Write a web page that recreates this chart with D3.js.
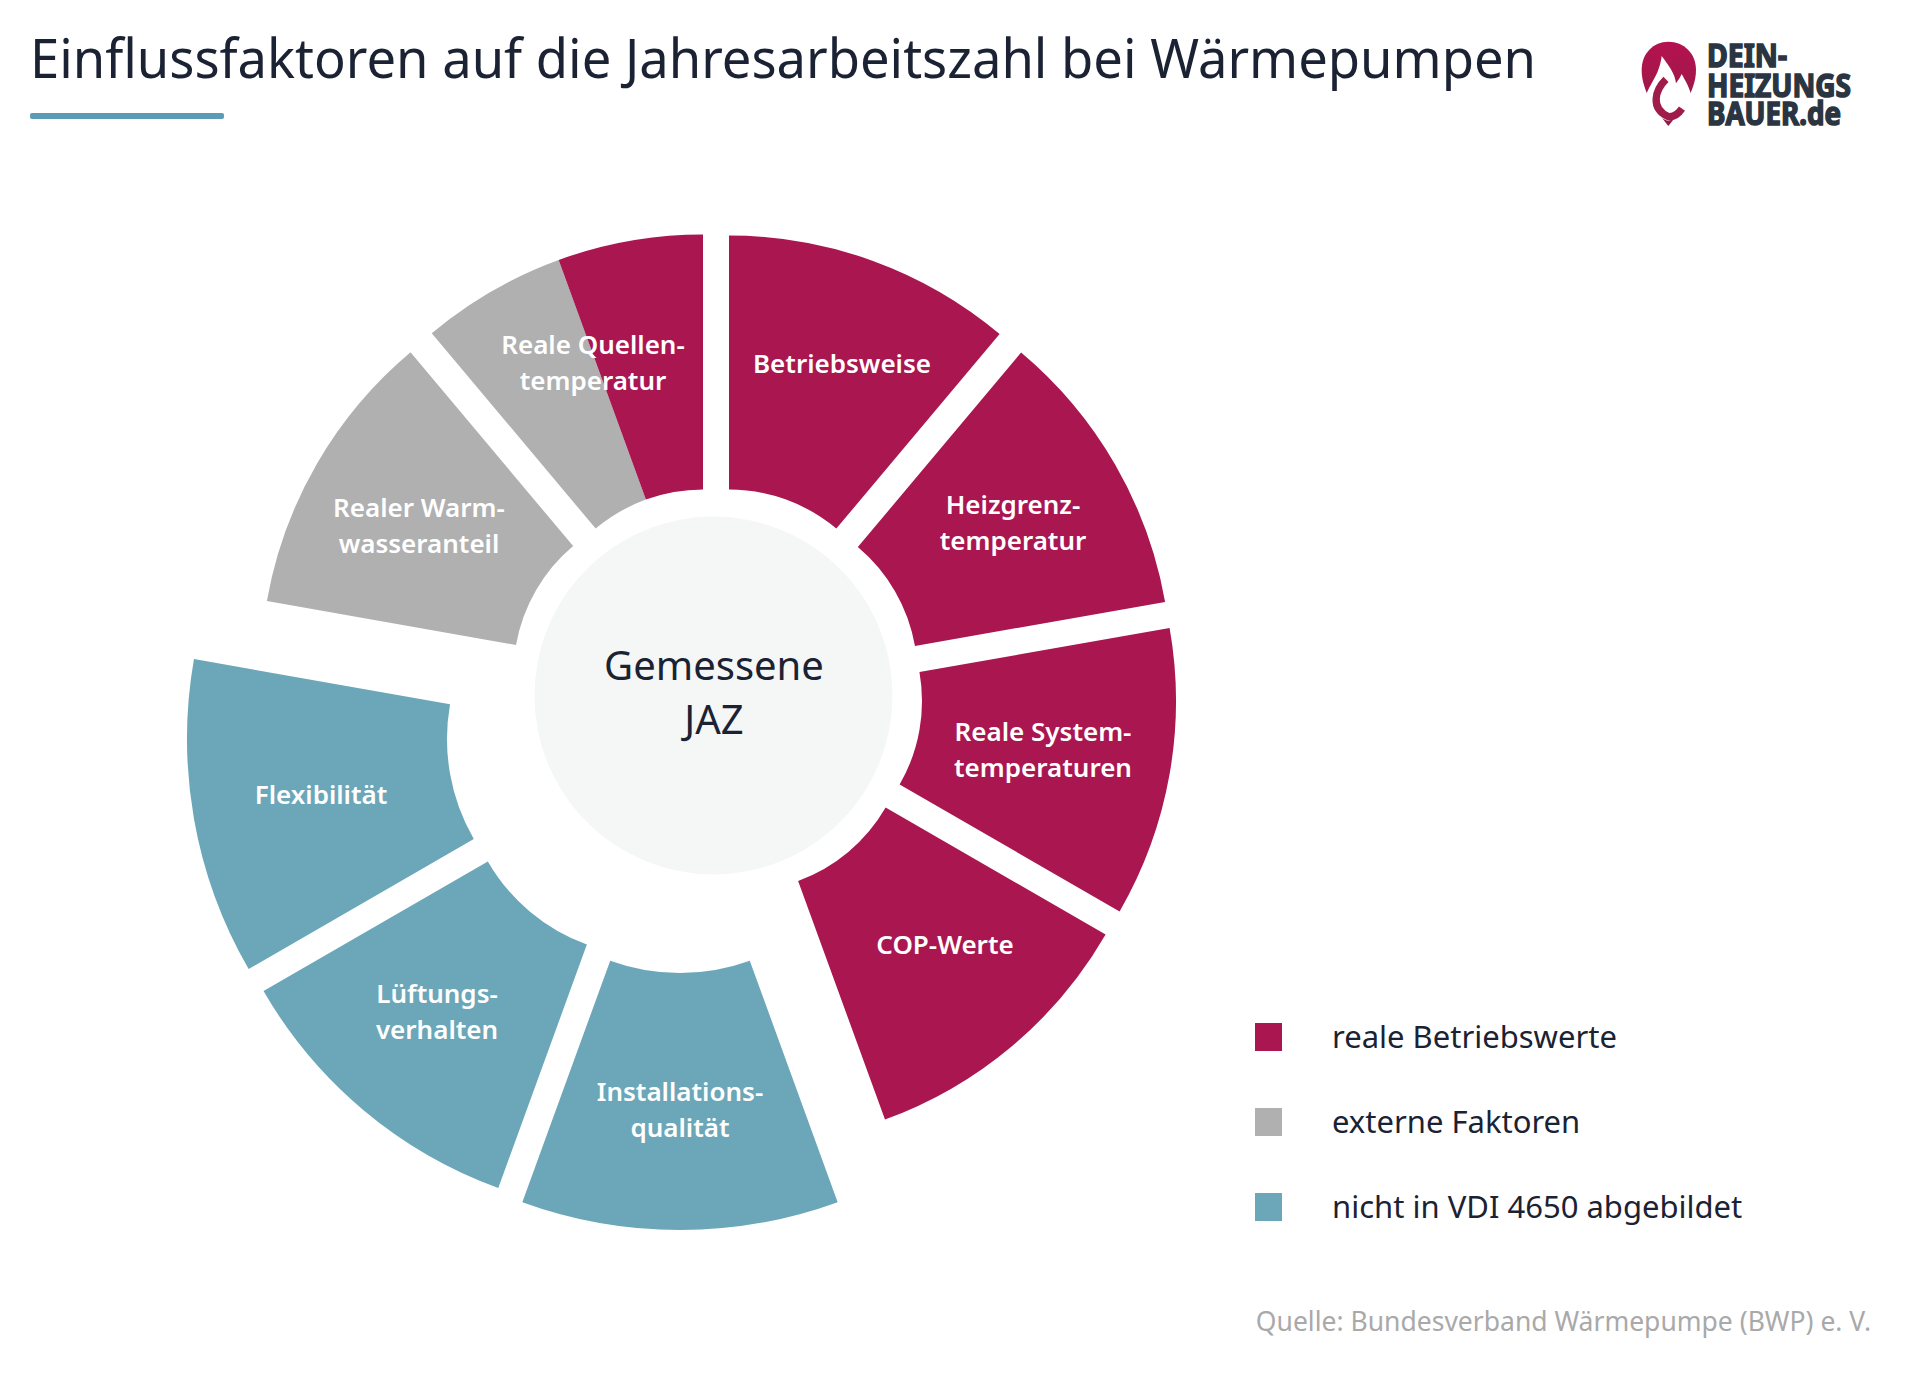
<!DOCTYPE html>
<html>
  <head>
    <meta charset="utf-8">
    <script src="https://d3js.org/d3.v7.min.js" charset="utf-8"></script>
    <style>
      body { margin: 0; background: #fff; }
      text { font-family: "Noto Sans", sans-serif; }
    </style>
  </head>
  <body>
    <script type="text/javascript">
    var colors = { real: "#a91650", ext: "#b0b0b0", vdi: "#6ba7b8" };

    // one entry per wedge, clockwise from 12 o'clock. span in degrees, dx/dy = shift of the tip from the middle
    var slices = [
      { span: 40, group: "real", dx: 12, dy: -36.5, r0: 167, r1: 421, label: ["Betriebsweise"], lx: 842, ly: 364 },
      { span: 40, group: "real", dx: 33.5, dy: -18, r0: 167, r1: 421, label: ["Heizgrenz-", "temperatur"], lx: 1013, ly: 523 },
      { span: 40, group: "real", dx: 38, dy: 8, r0: 167, r1: 421, label: ["Reale System-", "temperaturen"], lx: 1043, ly: 750 },
      { span: 40, group: "real", dx: 24, dy: 31, r0: 167, r1: 421, label: ["COP-Werte"], lx: 945, ly: 945 },
      { span: 40, group: "vdi", dx: -37, dy: 76, r0: 204, r1: 461, label: ["Installations-", "qualität"], lx: 680, ly: 1110 },
      { span: 40, group: "vdi", dx: -65.5, dy: 74, r0: 189, r1: 448, label: ["Lüftungs-", "verhalten"], lx: 437, ly: 1012 },
      { span: 40, group: "vdi", dx: -70, dy: 46, r0: 200, r1: 460, label: ["Flexibilität"], lx: 321, ly: 795 },
      { span: 40, group: "ext", dx: -36.5, dy: -19, r0: 167, r1: 420, label: ["Realer Warm-", "wasseranteil"], lx: 419, ly: 526 },
      { span: 20, group: "ext", dx: -14, dy: -36.5, r0: 167, r1: 422 },
      { span: 20, group: "real", dx: -14, dy: -36.5, r0: 167, r1: 422, label: ["Reale Quellen-", "temperatur"], lx: 593, ly: 363 }
    ];

    var legend = [
      { group: "real", name: "reale Betriebswerte" },
      { group: "ext", name: "externe Faktoren" },
      { group: "vdi", name: "nicht in VDI 4650 abgebildet" }
    ];

    var cx = 717, cy = 693;

    var svg = d3.select("body").append("svg")
      .attr("width", 1920)
      .attr("height", 1376);

    svg.append("text")
      .attr("x", 30)
      .attr("y", 78)
      .attr("font-size", 54)
      .attr("fill", "#1a2233")
      .attr("textLength", 1506)
      .attr("lengthAdjust", "spacingAndGlyphs")
      .text("Einflussfaktoren auf die Jahresarbeitszahl bei Wärmepumpen");

    svg.append("rect")
      .attr("x", 30).attr("y", 113)
      .attr("width", 194).attr("height", 6)
      .attr("rx", 2)
      .attr("fill", "#5b9bb5");

    var pie = d3.pie().sort(null).value(function(d) { return d.span; });
    var arc = d3.arc()
      .innerRadius(function(d) { return d.data.r0; })
      .outerRadius(function(d) { return d.data.r1; });

    var wheel = svg.append("g").attr("transform", "translate(" + cx + "," + cy + ")");

    wheel.selectAll("path")
      .data(pie(slices))
      .enter()
      .append("path")
        .attr("d", arc)
        .attr("fill", function(d) { return colors[d.data.group]; })
        .attr("transform", function(d) { return "translate(" + d.data.dx + "," + d.data.dy + ")"; });

    wheel.append("circle")
      .attr("cx", -3.5)
      .attr("cy", 2.5)
      .attr("r", 179)
      .attr("fill", "#f5f6f6");

    svg.append("g").selectAll("text")
      .data(slices.filter(function(d) { return d.label; }))
      .enter()
      .append("text")
        .attr("text-anchor", "middle")
        .attr("font-size", 26)
        .attr("font-weight", 600)
        .attr("fill", "#fff")
        .attr("y", function(d) { return d.ly; })
        .each(function(d) {
          var t = d3.select(this);
          d.label.forEach(function(line, i) {
            t.append("tspan")
              .attr("x", d.lx)
              .attr("dy", i == 0 ? (d.label.length == 1 ? 9 : -9) : 36)
              .text(line);
          });
        });

    var middle = svg.append("text")
      .attr("text-anchor", "middle")
      .attr("font-size", 40)
      .attr("fill", "#1a2233");
    middle.append("tspan").attr("x", 714).attr("y", 680).text("Gemessene");
    middle.append("tspan").attr("x", 714).attr("y", 734).text("JAZ");

    var y = d3.scalePoint()
      .domain(legend.map(function(d) { return d.group; }))
      .range([1037, 1207]);

    var rows = svg.append("g").selectAll("g")
      .data(legend)
      .enter()
      .append("g")
        .attr("transform", function(d) { return "translate(1255," + y(d.group) + ")"; });

    rows.append("rect")
      .attr("y", -14)
      .attr("width", 27)
      .attr("height", 28)
      .attr("fill", function(d) { return colors[d.group]; });

    rows.append("text")
      .attr("x", 77)
      .attr("y", 11)
      .attr("font-size", 31)
      .attr("fill", "#1a2233")
      .text(function(d) { return d.name; });

    svg.append("text")
      .attr("x", 1871)
      .attr("y", 1331)
      .attr("text-anchor", "end")
      .attr("font-size", 26.5)
      .attr("fill", "#a9a9a9")
      .text("Quelle: Bundesverband Wärmepumpe (BWP) e. V.");

    // logo
    var logo = svg.append("g").attr("transform", "translate(1600,20) scale(0.3333)");

    var grad = svg.append("defs").append("linearGradient")
      .attr("id", "pin").attr("x1", 0).attr("y1", 0).attr("x2", 0).attr("y2", 1);
    grad.append("stop").attr("offset", "0%").attr("stop-color", "#b5124f");
    grad.append("stop").attr("offset", "100%").attr("stop-color", "#8f1c45");

    logo.append("path")
      .attr("d", "M205 318 C170 275 125 215 125 150 C125 100 160 65 205 65 C252 65 288 100 288 150 C288 215 240 275 205 318 Z")
      .attr("fill", "url(#pin)");
    logo.append("path")
      .attr("d", "M137 228 C150 190 178 165 185 108 C205 135 225 160 228 190 C235 180 242 170 245 162 C255 180 270 205 274 228 C258 258 225 302 205 302 C185 302 152 262 137 228 Z")
      .attr("fill", "#fff");
    logo.append("path")
      .attr("d", "M198 178 C165 210 150 265 205 290 C222 292 235 282 246 266")
      .attr("fill", "none")
      .attr("stroke", "#a01a4a")
      .attr("stroke-width", 22);

    var logoText = svg.append("g")
      .attr("fill", "#2b3542")
      .attr("stroke", "#2b3542")
      .attr("stroke-width", 1.6)
      .attr("font-weight", 700)
      .attr("font-size", 33)
      .style("font-family", "'Liberation Sans Narrow', 'Liberation Sans', sans-serif");
    logoText.append("text").attr("x", 1707).attr("y", 67).attr("textLength", 80).attr("lengthAdjust", "spacingAndGlyphs").text("DEIN-");
    logoText.append("text").attr("x", 1707).attr("y", 97).attr("textLength", 144).attr("lengthAdjust", "spacingAndGlyphs").text("HEIZUNGS");
    logoText.append("text").attr("x", 1707).attr("y", 125).attr("textLength", 134).attr("lengthAdjust", "spacingAndGlyphs").text("BAUER.de");
    </script>
  </body>
</html>
